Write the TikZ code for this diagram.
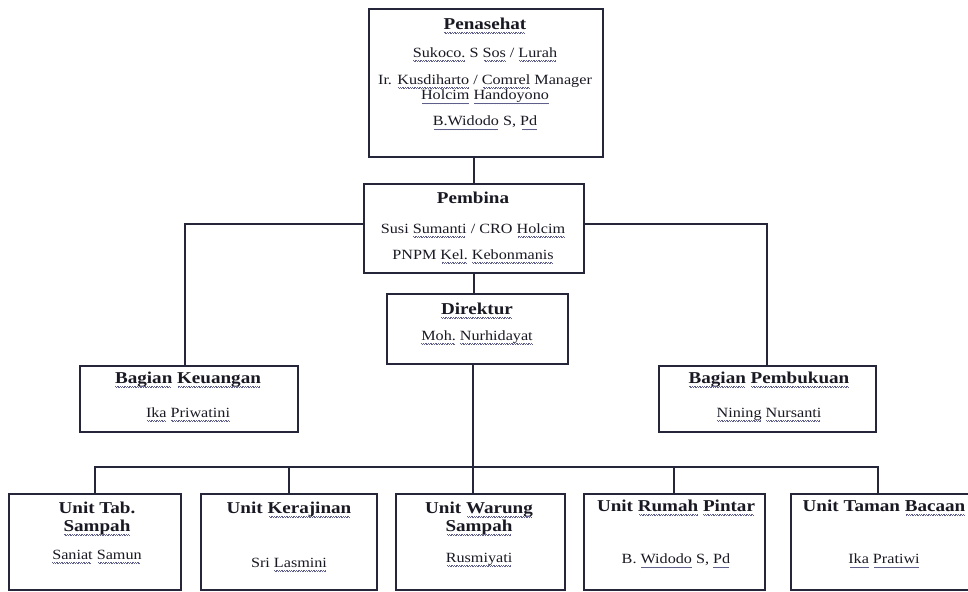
\documentclass[tikz,border=0pt]{standalone}
\usepackage{fontspec}
\setmainfont{Liberation Serif}[FakeStretch=1.15]
\usepackage{xcolor}
\usepackage{tikz}
\usetikzlibrary{positioning,calc}
\definecolor{boxline}  {RGB}{38,38,58}
\definecolor{inktext}  {RGB}{25,25,35}
\definecolor{squiggle} {RGB}{95,95,140}
\newsavebox{\sqbox}
\newcommand{\sq}[1]{\sbox{\sqbox}{#1}\leavevmode\rlap{\usebox{\sqbox}}%
  \textcolor{squiggle}{\leaders\hbox{\vrule height -1.9pt depth 2.6pt width 0.6pt%
  \vrule height -2.4pt depth 3.1pt width 0.6pt}\hskip\wd\sqbox}}
\newcommand{\ttl}[1]{{\bfseries\fontsize{11.8}{11}\selectfont #1}}

\begin{document}
\setlength{\lineskiplimit}{-5pt}
\begin{tikzpicture}[
  x=0.025cm, y=-0.025cm,
  orgbox/.style={rectangle, draw=boxline, line width=1.2pt,
    anchor=north west, inner sep=0pt},
  unitbox/.style={orgbox, minimum height=2.4cm},
  orgtext/.style={anchor=north, align=center, inner sep=0pt, text=inktext,
    font=\fontsize{10}{11}\selectfont},
  link/.style={draw=boxline, line width=1.3pt},
]
\useasboundingbox (0,0) rectangle (968,592);
\clip (0,0) rectangle (968,592);
\fill[white] (0,0) rectangle (968,592);

% Penasehat
\node[orgbox, minimum width=5.85cm, minimum height=3.7cm] (pen) at (368,8) {};
\node[orgtext] (penT) at (485,17.7)
  {\ttl{\sq{Penasehat}}\\[8.9pt]
   \sq{Sukoco.} S \sq{Sos} / \sq{Lurah}\\[8.2pt]
   Ir. \sq{Kusdiharto} / \sq{Comrel} Manager\\
   \sq{Holcim} \sq{Handoyono}\\[7.5pt]
   \sq{B.Widodo} S, \sq{Pd}};

% Pembina
\node[orgbox, minimum width=5.5cm, minimum height=2.225cm] (pem) at (363,183) {};
\node[orgtext] (pemT) at (473,191.7)
  {\ttl{Pembina}\\[10.3pt]
   Susi \sq{Sumanti} / CRO \sq{Holcim}\\[7.5pt]
   PNPM \sq{Kel.} \sq{Kebonmanis}};

% Direktur
\node[orgbox, minimum width=4.525cm, minimum height=1.75cm] (dir) at (386,293) {};
\node[orgtext] (dirT) at (477,302.7)
  {\ttl{\sq{Direktur}}\\[7.5pt]
   \sq{Moh.} \sq{Nurhidayat}};

% Bagian
\node[orgbox, minimum width=5.45cm, minimum height=1.65cm] (keu) at (79,365) {};
\node[orgtext] (keuT) at (188,371.7)
  {\ttl{\sq{Bagian} \sq{Keuangan}}\\[13.2pt]
   \sq{Ika} \sq{Priwatini}};
\node[orgbox, minimum width=5.425cm, minimum height=1.65cm] (pbk) at (658,365) {};
\node[orgtext] (pbkT) at (769,371.7)
  {\ttl{\sq{Bagian} \sq{Pembukuan}}\\[13.2pt]
   \sq{Nining} \sq{Nursanti}};

% Units
\node[unitbox, minimum width=4.3cm]   (tab) at (8,493)   {};
\node[unitbox, minimum width=4.4cm]   (ker) at (200,493) {};
\node[unitbox, minimum width=4.225cm] (war) at (395,493) {};
\node[unitbox, minimum width=4.525cm] (rum) at (583,493) {};
\node[unitbox, minimum width=4.75cm]  (tam) at (790,493) {};

\node[orgtext] (tabT) at (97,502)
  {\ttl{Unit Tab.}\\[1.8pt]
   \ttl{\sq{Sampah}}\\[8.9pt]
   \sq{Saniat} \sq{Samun}};
\node[orgtext] (kerT) at (289,502)
  {\ttl{Unit \sq{Kerajinan}}\\[27.4pt]
   Sri \sq{Lasmini}};
\node[orgtext] (warT) at (479,502)
  {\ttl{Unit \sq{Warung}}\\[1.8pt]
   \ttl{\sq{Sampah}}\\[11pt]
   \sq{Rusmiyati}};
\node[orgtext] (rumT) at (676,500)
  {\ttl{Unit \sq{Rumah} \sq{Pintar}}\\[26pt]
   B. \sq{Widodo} S, \sq{Pd}};
\node[orgtext] (tamT) at (884,500)
  {\ttl{Unit Taman \sq{Bacaan}}\\[26pt]
   \sq{Ika} \sq{Pratiwi}};

% Connectors
\coordinate (busY) at (0,467);
\coordinate (bus) at ([xshift=-0.1cm]dir.south |- busY);
\draw[link] (pen.south -| pem.north) -- (pem.north);
\draw[link] ([yshift=0.11cm]pem.west) -| ([xshift=-0.1cm]keu.north);
\draw[link] ([yshift=0.1cm]pem.east) -| (pbk.north);
\draw[link] (pem.south) -- (pem.south |- dir.north);
\draw[link] ([xshift=-0.1cm]dir.south) -- (bus) -- (bus |- war.north);
\draw[link] (tab.north) |- (bus) -| ([xshift=-0.2cm]tam.north);
\draw[link] (ker.north) -- (ker.north |- bus);
\draw[link] (rum.north) -- (rum.north |- bus);
\end{tikzpicture}
\end{document}
